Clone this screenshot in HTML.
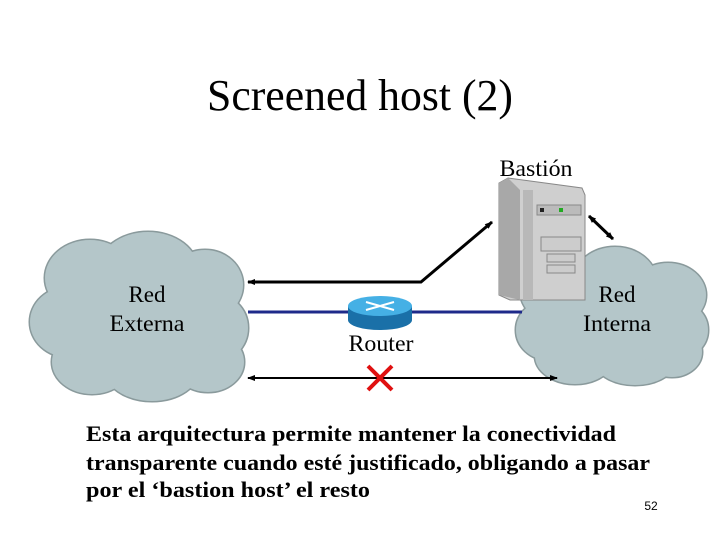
<!DOCTYPE html>
<html><head><meta charset="utf-8"><style>
body{margin:0;width:720px;height:540px;background:#fff;overflow:hidden;font-family:"Liberation Serif",serif}
</style></head><body>
<svg width="720" height="540" xmlns="http://www.w3.org/2000/svg">
<defs>
<marker id="ah" markerWidth="8" markerHeight="8" refX="7" refY="4" orient="auto-start-reverse" markerUnits="userSpaceOnUse"><path d="M0,1 L8,4 L0,7 z" fill="#000"/></marker>
<g id="lc">
<ellipse cx="90" cy="278" rx="45" ry="38"/><ellipse cx="148" cy="270" rx="50" ry="38"/><ellipse cx="205" cy="285" rx="38" ry="35"/>
<ellipse cx="68" cy="322" rx="38" ry="35"/><ellipse cx="212" cy="328" rx="36" ry="35"/>
<ellipse cx="92" cy="362" rx="40" ry="32"/><ellipse cx="152" cy="368" rx="48" ry="33"/><ellipse cx="208" cy="362" rx="36" ry="30"/>
<ellipse cx="140" cy="318" rx="80" ry="55"/></g>
<g id="rc">
<ellipse cx="560" cy="290" rx="40" ry="35"/><ellipse cx="615" cy="282" rx="42" ry="35"/><ellipse cx="668" cy="295" rx="38" ry="32"/>
<ellipse cx="548" cy="330" rx="32" ry="30"/><ellipse cx="680" cy="330" rx="28" ry="28"/>
<ellipse cx="575" cy="356" rx="40" ry="28"/><ellipse cx="635" cy="358" rx="42" ry="27"/><ellipse cx="672" cy="352" rx="30" ry="25"/>
<ellipse cx="612" cy="320" rx="70" ry="45"/></g>
</defs>
<text x="360" y="110" font-size="44" text-anchor="middle" textLength="306" lengthAdjust="spacingAndGlyphs">Screened host (2)</text>
<use href="#lc" fill="none" stroke="#8a9a9c" stroke-width="3"/>
<use href="#lc" fill="#b4c6c9"/>
<use href="#rc" fill="none" stroke="#8a9a9c" stroke-width="3"/>
<use href="#rc" fill="#b4c6c9"/>
<line x1="248" y1="312" x2="522" y2="312" stroke="#1e2a8a" stroke-width="3"/>
<polygon points="499,183 508,178 582,188 585,195 585,300 510,300 499,295" fill="#cfcfcf" stroke="#888"/>
<polygon points="499,183 508,178 520,190 520,300 499,295" fill="#a8a8a8"/>
<rect x="523" y="190" width="10" height="110" fill="#b8b8b8"/>
<rect x="537" y="205" width="44" height="10" fill="#bbb" stroke="#888"/>
<rect x="540" y="208" width="4" height="4" fill="#222"/><rect x="559" y="208" width="4" height="4" fill="#2a2"/>
<rect x="541" y="237" width="40" height="14" fill="#ccc" stroke="#888"/>
<rect x="547" y="254" width="28" height="8" fill="#ccc" stroke="#888"/>
<rect x="547" y="265" width="28" height="8" fill="#ccc" stroke="#888"/>
<text x="536" y="176" font-size="23" text-anchor="middle" textLength="73" lengthAdjust="spacingAndGlyphs">Bastión</text>
<path d="M348,306 v14 a32,10 0 0 0 64,0 v-14 z" fill="#1a70a8"/>
<ellipse cx="380" cy="306" rx="32" ry="10" fill="#45b0e5"/>
<path d="M366,302 L394,310 M394,302 L366,310" stroke="#fff" stroke-width="2"/>
<text x="381" y="351" font-size="23" text-anchor="middle" textLength="65" lengthAdjust="spacingAndGlyphs">Router</text>
<polyline points="492,222 421,282 248,282" fill="none" stroke="#000" stroke-width="3" marker-start="url(#ah)" marker-end="url(#ah)"/>
<line x1="589" y1="216" x2="613" y2="239" stroke="#000" stroke-width="3" marker-start="url(#ah)" marker-end="url(#ah)"/>
<line x1="248" y1="378" x2="557" y2="378" stroke="#000" stroke-width="2" marker-start="url(#ah)" marker-end="url(#ah)"/>
<path d="M368,366 L392,390 M392,366 L368,390" stroke="#e01010" stroke-width="4"/>
<text x="147" y="302" font-size="23" text-anchor="middle">Red</text>
<text x="147" y="331" font-size="23" text-anchor="middle" textLength="75" lengthAdjust="spacingAndGlyphs">Externa</text>
<text x="617" y="302" font-size="23" text-anchor="middle">Red</text>
<text x="617" y="331" font-size="23" text-anchor="middle" textLength="68" lengthAdjust="spacingAndGlyphs">Interna</text>
<g font-size="22" font-weight="bold">
<text x="86" y="441" textLength="530" lengthAdjust="spacingAndGlyphs">Esta arquitectura permite mantener la conectividad</text>
<text x="86" y="470" textLength="564" lengthAdjust="spacingAndGlyphs">transparente cuando esté justificado, obligando a pasar</text>
<text x="86" y="497" textLength="284" lengthAdjust="spacingAndGlyphs">por el ‘bastion host’ el resto</text>
</g>
<text x="651" y="510" font-size="12" text-anchor="middle" font-family="Liberation Sans">52</text>
</svg>
</body></html>
